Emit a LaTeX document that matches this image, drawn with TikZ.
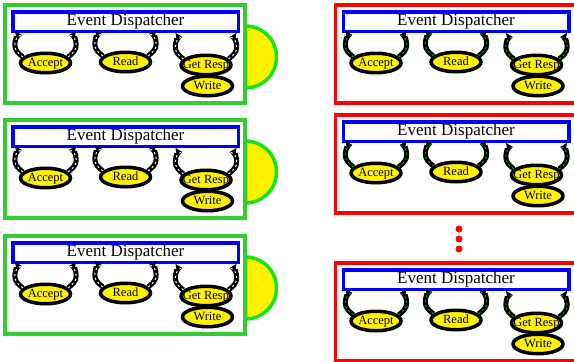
\documentclass[tikz,border=0pt]{standalone}
\usepackage{fontspec}
\setmainfont{Liberation Serif}
\usetikzlibrary{arrows.meta,shapes.geometric}
\definecolor{framegreen}{RGB}{51,204,51}
\definecolor{sungreen}{RGB}{20,230,20}
\definecolor{ropegreen}{RGB}{0,170,0}

\tikzset{
  frame/.style={draw=#1, line width=3.5pt},
  dispbox/.style={draw=blue, line width=3.5pt, fill=white, minimum width=225.5pt,
    minimum height=19.5pt, inner sep=0pt, font=\fontsize{17}{17}\selectfont},
  task/.style={ellipse, draw=black, line width=3.5pt, fill=yellow, minimum width=50pt,
    minimum height=19.5pt, inner xsep=-6pt, inner ysep=-2pt, text height=8pt, text depth=2pt,
    font=\fontsize{12.5}{12.5}\selectfont},
  rope/.style={black, line width=5pt, -{Triangle[width=10pt,length=6pt]},
    postaction={draw=#1, -, line width=1pt, dash pattern=on 2pt off 3pt}},
}

\newcommand\curls[2]{%
  \draw[rope=#2] (#1.165) to[out=140,in=-90] ++(-8,12) to[out=90,in=190] ++(7,10);
  \draw[rope=#2] (#1.15) to[out=40,in=-90] ++(8,12) to[out=90,in=-10] ++(-7,10);
}

\newcommand\dispatcher[5]{%
  \begin{scope}[shift={(#2,#3)}]
    \draw[frame=#4] (0,0) rectangle (240,-98);
    \node[dispbox] (#1-disp) at (120.5,-16.5) {Event Dispatcher};
    \node[task] (#1-acc) at (40.5,-58) {Accept};
    \node[task] (#1-read) at (120.5,-57) {Read};
    \node[task] (#1-get) at (201,-60) {Get Resp};
    \node[task] (#1-write) at (202.5,-81) {Write};
    \curls{#1-acc}{#5}
    \curls{#1-read}{#5}
    \curls{#1-get}{#5}
  \end{scope}}

\begin{document}
\begin{tikzpicture}[x=1pt,y=1pt]
	\useasboundingbox (0,0) rectangle (574,-362);
	\foreach \y in {5,120,236}
		\filldraw[fill=yellow, draw=sungreen, line width=3.5pt] (245.5,{-\y-21}) arc[start angle=90, end angle=-90, radius=31] -- cycle;
	\dispatcher{lone}{5}{-5}{framegreen}{white}
	\dispatcher{ltwo}{5}{-120}{framegreen}{white}
	\dispatcher{lthree}{5}{-236}{framegreen}{white}
	\dispatcher{rone}{335.5}{-5}{red}{ropegreen}
	\dispatcher{rtwo}{335.5}{-115}{red}{ropegreen}
	\dispatcher{rthree}{335.5}{-263}{red}{ropegreen}
	\foreach \d in {229,239,249}
		\fill[red] (459,-\d) circle (3.5);
\end{tikzpicture}
\end{document}
